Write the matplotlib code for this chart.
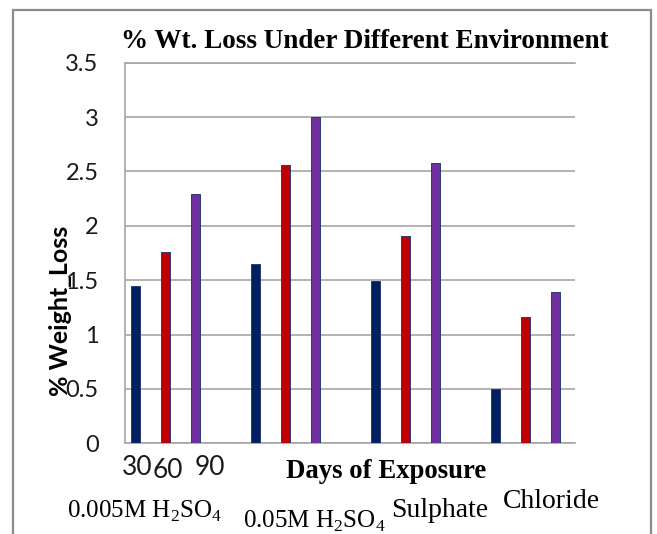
import matplotlib
matplotlib.use("Agg")
import matplotlib.pyplot as plt
from matplotlib.patches import Rectangle

# data
environments = ["0.005M H$_2$SO$_4$", "0.05M H$_2$SO$_4$", "Sulphate", "Chloride"]
days = ["30", "60", "90"]
loss_30 = [1.45, 1.65, 1.49, 0.50]
loss_60 = [1.76, 2.56, 1.91, 1.16]
loss_90 = [2.29, 3.00, 2.58, 1.39]
yticks = [0, 0.5, 1, 1.5, 2, 2.5, 3, 3.5]

colors = ["#002060", "#C00000", "#7030A0"]
edge = "#2a3a78"
grid_c = "#a6a6a6"

plt.rcParams["mathtext.fontset"] = "custom"
plt.rcParams["mathtext.rm"] = "Liberation Serif"

W, H = 657, 534
fig = plt.figure(figsize=(W / 100, H / 100), dpi=100)
ax = fig.add_axes([125 / W, 1 - 443.3 / H, 450 / W, (443.3 - 62.7) / H])

# outer frame of the pasted chart
fig.patches.append(Rectangle((12.5 / W, -0.05), (651 - 12.5) / W, 1.05 - 10 / H,
                             transform=fig.transFigure, fill=False,
                             edgecolor="#8c8c8c", linewidth=1.6))

for j, series in enumerate([loss_30, loss_60, loss_90]):
    xs = [4 * g + j for g in range(len(series))]
    ax.bar(xs, series, width=0.33, color=colors[j], edgecolor=edge,
           linewidth=0.7, zorder=3)

ax.set_xlim(-0.35, 14.65)
ax.set_ylim(0, 3.5)
ax.set_yticks(yticks)
ax.set_yticklabels(["0", "0.5", "1", "1.5", "2", "2.5", "3", "3.5"],
                   fontfamily="Lato", fontsize=17, color="#1a1a1a")
ax.tick_params(axis="y", length=0, pad=19)
ax.set_xticks([])
ax.grid(axis="y", color=grid_c, linewidth=1.2, zorder=0)
for s in ["left", "bottom", "top"]:
    ax.spines[s].set_color(grid_c)
    ax.spines[s].set_linewidth(1.2)
ax.spines["right"].set_visible(False)

# day labels under the first group
for x, lab, base in zip([137, 168, 210], days, [475, 478, 475]):
    fig.text(x / W, 1 - base / H, lab, ha="center", va="baseline",
             fontfamily="Lato", fontsize=19, color="#1a1a1a")

fig.text(365 / W, 1 - 42 / H, "% Wt. Loss Under Different Environment",
         ha="center", va="center", fontfamily="Liberation Serif",
         fontweight="bold", fontsize=19.5)
fig.text(386 / W, 1 - 472 / H, "Days of Exposure", ha="center", va="center",
         fontfamily="Liberation Serif", fontweight="bold", fontsize=19.3)
fig.text(61 / W, 1 - 311 / H, "% Weight_Loss", rotation=90, ha="center",
         va="center", fontfamily="Lato", fontweight="bold", fontsize=18)

# environment labels
for x, lab, base, fs in zip([145, 314, 440, 551], environments,
                            [518, 528, 517, 508], [18, 18, 20, 20]):
    fig.text(x / W, 1 - base / H, lab, ha="center", va="baseline",
             fontfamily="Liberation Serif", fontsize=fs)

fig.savefig("out.png", dpi=100)
